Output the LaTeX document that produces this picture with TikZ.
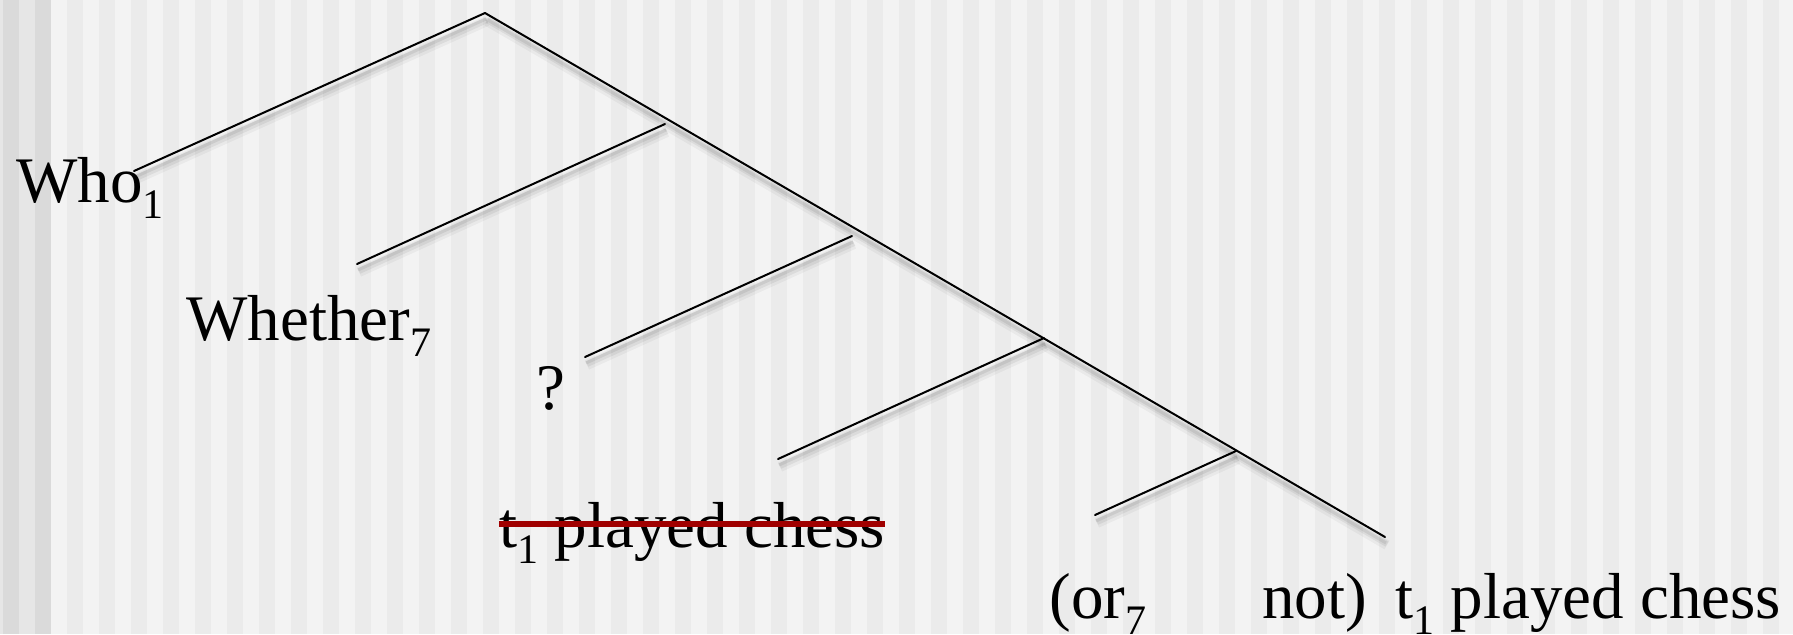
\documentclass[tikz,border=0pt]{standalone}
\usepackage{fontspec}
\setmainfont{Liberation Serif}
\definecolor{bglight}{RGB}{243,243,243}
\definecolor{bgdark}{RGB}{235,235,235}
\definecolor{edgedark}{RGB}{218,218,218}
\definecolor{edgelight}{RGB}{230,230,230}
\definecolor{strikered}{RGB}{160,0,0}
\newcommand{\sbx}[1]{\raisebox{-8pt}{\fontsize{21}{21}\selectfont #1}}
\tikzset{
  txt/.style={anchor=base west, inner sep=0pt, font=\fontsize{32.5}{38}\selectfont},
  treeline/.style={draw=black, line width=1pt, line cap=round},
  shadeA/.style={draw=black, opacity=0.04, line width=5pt},
  shadeB/.style={draw=black, opacity=0.06, line width=3pt},
  shadeC/.style={draw=black, opacity=0.07, line width=1.5pt},
  strike/.style={draw=strikered, line width=2.75pt}
}
\begin{document}
\begin{tikzpicture}[x=0.5pt,y=-0.5pt]
\useasboundingbox (0,0) rectangle (1793,634);
% background stripes
\fill[bglight] (0,0) rectangle (1793,634);
\foreach \k in {0,...,55} {\fill[bgdark] ({3+32*\k},0) rectangle ({19+32*\k},634);}
\fill[edgelight] (0,0) rectangle (3,634);
\fill[edgelight] (19,0) rectangle (35,634);
\fill[edgedark] (3,0) rectangle (19,634);
\fill[edgedark] (35,0) rectangle (51,634);

% coordinates of the tree
\coordinate (top) at (485,13);
\coordinate (whoend) at (134,171);
\coordinate (spineend) at (1385,537);
\coordinate (b1top) at (665,124);
\coordinate (b1bot) at (357,264);
\coordinate (b2top) at (852,236);
\coordinate (b2bot) at (585,357);
\coordinate (b3top) at (1044,338);
\coordinate (b3bot) at (778,459);
\coordinate (b4top) at (1236,451);
\coordinate (b4bot) at (1095,515);

% shadows
\foreach \a/\b in {top/whoend, top/spineend, b1top/b1bot, b2top/b2bot, b3top/b3bot, b4top/b4bot} {
  \draw[shadeA] ([shift={(2,8)}]\a) -- ([shift={(2,8)}]\b);
  \draw[shadeB] ([shift={(2,7)}]\a) -- ([shift={(2,7)}]\b);
  \draw[shadeC] ([shift={(1,6)}]\a) -- ([shift={(1,6)}]\b);
}
% lines
\foreach \a/\b in {top/whoend, top/spineend, b1top/b1bot, b2top/b2bot, b3top/b3bot, b4top/b4bot} {
  \draw[treeline] (\a) -- (\b);
}

% texts
\node[txt] (who) at (16,202) {Who\sbx{1}};
\node[txt] (whether) at (186,340) {Whether\sbx{7}};
\node[txt] (q) at (536,409) {?};
\node[txt] (struck) at (499,547) {t\sbx{1} played chess};
\node[txt] (or) at (1049,618) {(or\sbx{7}};
\node[txt] (not) at (1262,618) {not)};
\node[txt] (tpc) at (1395,618) {t\sbx{1} played chess};

\draw[strike] ([yshift=11.5pt]struck.base west) -- ([yshift=11.5pt]struck.base east);
\end{tikzpicture}
\end{document}
